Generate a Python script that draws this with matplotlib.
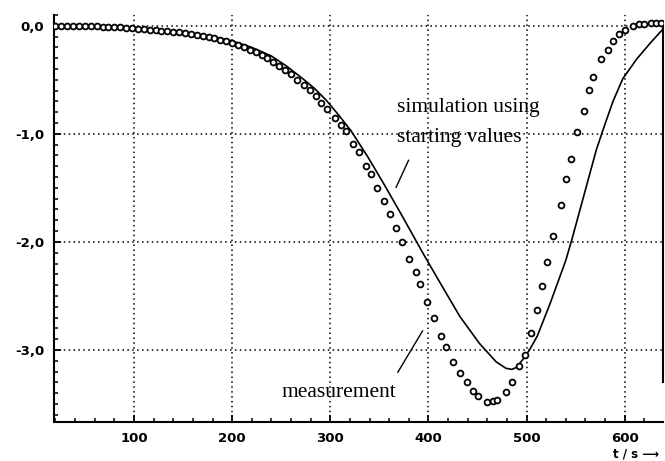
import matplotlib
matplotlib.use("Agg")
import matplotlib.pyplot as plt
from matplotlib.ticker import MultipleLocator, FixedLocator

# ---- data ----
t_meas = [20, 26, 32, 38, 44, 50, 56, 62, 68, 74, 80, 86, 92, 98, 104, 110, 116,
          122, 128, 134, 140, 146, 152, 158, 164, 170, 176, 182, 188, 194, 200,
          206, 212, 218, 224, 230, 236, 242, 248, 254, 260, 266, 273, 279, 285,
          291, 297, 305, 311, 316, 323, 329, 336, 341, 348, 355, 361, 367, 373,
          380, 387, 391, 399, 406, 413, 418, 425, 432, 439, 445, 451, 460, 466,
          470, 479, 485, 492, 498, 504, 511, 516, 521, 527, 535, 540, 545, 551,
          558, 564, 568, 576, 583, 588, 594, 600, 608, 615, 620, 627, 632, 637]
y_meas = [0.00, 0.00, 0.00, 0.00, 0.00, 0.00, -0.005, -0.005, -0.01, -0.01, -0.01,
          -0.015, -0.02, -0.02, -0.025, -0.03, -0.035, -0.04, -0.045, -0.05,
          -0.055, -0.06, -0.07, -0.08, -0.085, -0.095, -0.105, -0.115, -0.13,
          -0.145, -0.16, -0.18, -0.20, -0.22, -0.245, -0.27, -0.30, -0.335,
          -0.37, -0.41, -0.45, -0.50, -0.55, -0.59, -0.65, -0.71, -0.77, -0.85,
          -0.92, -0.97, -1.09, -1.17, -1.30, -1.37, -1.50, -1.62, -1.74, -1.87,
          -2.00, -2.16, -2.28, -2.39, -2.56, -2.70, -2.87, -2.97, -3.11, -3.21,
          -3.30, -3.38, -3.43, -3.48, -3.47, -3.46, -3.39, -3.30, -3.15, -3.05,
          -2.84, -2.63, -2.41, -2.19, -1.95, -1.66, -1.42, -1.23, -0.98, -0.79,
          -0.59, -0.47, -0.31, -0.22, -0.145, -0.08, -0.04, 0.00, 0.015, 0.02,
          0.03, 0.03, 0.03]

t_sim = [20, 60, 100, 140, 180, 200, 220, 240, 255, 272, 284, 296, 308, 321, 338,
         355, 372, 388, 396, 412, 432, 452, 469, 479, 485, 490, 496, 503, 511,
         524, 532, 540, 547, 559, 571, 578, 588, 598, 612, 626, 637, 640]
y_sim = [0.0, -0.005, -0.02, -0.05, -0.10, -0.14, -0.20, -0.28, -0.37, -0.49,
         -0.58, -0.69, -0.82, -0.97, -1.21, -1.47, -1.74, -2.00, -2.13, -2.38,
         -2.69, -2.94, -3.11, -3.17, -3.18, -3.16, -3.09, -3.00, -2.87, -2.57,
         -2.37, -2.17, -1.95, -1.55, -1.15, -0.96, -0.70, -0.49, -0.31, -0.16,
         -0.05, -0.02]

x_ticks = [100, 200, 300, 400, 500, 600]
x_ticklabels = ["100", "200", "300", "400", "500", "600"]
y_ticks = [0.0, -1.0, -2.0, -3.0]
y_ticklabels = ["0,0", "-1,0", "-2,0", "-3,0"]

# ---- figure ----
fig = plt.figure(figsize=(6.65, 4.61), dpi=100)
ax = fig.add_axes([54 / 665, 1 - 422 / 461, (663 - 54) / 665, (422 - 15) / 461])

ax.set_xlim(18.5, 639)
ax.set_ylim(-3.667, 0.1)

ax.plot(t_sim, y_sim, color="black", lw=1.2, zorder=3)
ax.plot(t_meas, y_meas, linestyle="none", marker="o", markersize=4.2,
        markerfacecolor="white", markeredgecolor="black", markeredgewidth=1.3,
        zorder=4)

# grid
for xv in x_ticks:
    ax.axvline(xv, color="black", lw=1.1, linestyle=(0, (1, 2.2)), zorder=1)
for yv in y_ticks:
    ax.axhline(yv, color="black", lw=1.1, linestyle=(0, (1, 2.2)), zorder=1)

# spines
ax.spines["top"].set_visible(False)
for s in ["left", "bottom", "right"]:
    ax.spines[s].set_linewidth(1.5)
ax.spines["right"].set_bounds(-3.3, 0.0)

ax.xaxis.set_major_locator(FixedLocator(x_ticks))
ax.set_xticklabels(x_ticklabels)
ax.yaxis.set_major_locator(FixedLocator(y_ticks))
ax.set_yticklabels(y_ticklabels)
ax.xaxis.set_minor_locator(MultipleLocator(20))
ax.yaxis.set_minor_locator(MultipleLocator(0.1))
ax.tick_params(axis="both", which="major", direction="in", length=5, width=1.3,
               labelsize=9.5, pad=7)
ax.tick_params(axis="both", which="minor", direction="in", length=3, width=1.1)
ax.tick_params(axis="y", which="both", right=False)
for lab in ax.get_xticklabels() + ax.get_yticklabels():
    lab.set_fontweight("bold")

fig.text(613 / 665, 1 - 454 / 461, "t / s \u27f6", fontsize=8.5, fontweight="bold",
         ha="left", va="center")

# annotations
serif = "Liberation Serif"
ax.text(367.8, -0.80, "simulation using", fontsize=15.5, family=serif,
        ha="left", va="baseline")
ax.text(367.8, -1.08, "starting values", fontsize=15.5, family=serif,
        ha="left", va="baseline")
ax.annotate("", xy=(381, -1.22), xytext=(365.8, -1.52),
            arrowprops=dict(arrowstyle="-", color="black", lw=1.0))
ax.text(250.7, -3.435, "measurement", fontsize=15.5, family=serif,
        ha="left", va="baseline")
ax.annotate("", xy=(395.6, -2.80), xytext=(367.3, -3.23),
            arrowprops=dict(arrowstyle="-", color="black", lw=1.0))

fig.savefig("out.png", dpi=100)
